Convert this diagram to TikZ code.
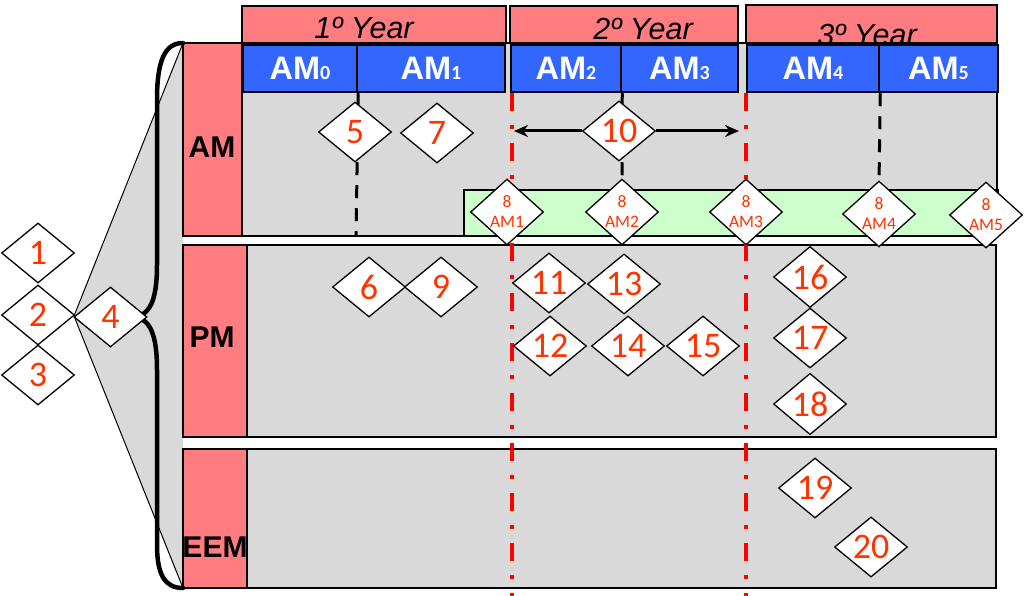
\documentclass[tikz,border=0pt]{standalone}
\usepackage{fontspec}
\setmainfont{Liberation Sans}
\newfontfamily\calfont{Carlito}
\usetikzlibrary{shapes.geometric,arrows.meta}
\definecolor{numred}{HTML}{FF3300}
\definecolor{pinkbox}{HTML}{FF7C80}
\definecolor{bluebox}{HTML}{3366FF}
\definecolor{grayarea}{HTML}{D9D9D9}
\definecolor{greenband}{HTML}{CCFFCC}
\tikzset{
  dia/.style={shape=diamond, draw=black, line width=1.3pt, fill=white, inner sep=0pt,
    minimum width=73pt, minimum height=60pt, text=numred,
    font=\calfont\fontsize{36}{40}\selectfont},
  sdia/.style={dia, align=center, font=\calfont\fontsize{17.5}{20}\selectfont},
  grayrow/.style={draw=black, line width=1.3pt, fill=grayarea},
  rowlab/.style={draw=black, line width=1.2pt, fill=pinkbox},
  yearbox/.style={draw=black, line width=1.2pt, fill=pinkbox},
  yeartext/.style={anchor=base, font=\itshape\fontsize{30.5}{32}\selectfont},
  amblue/.style={draw=black, line width=2.5pt, fill=bluebox, text=white,
    font=\bfseries\fontsize{32.5}{34}\selectfont},
  labtext/.style={font=\bfseries\fontsize{30}{32}\selectfont},
  reddash/.style={draw=red, line width=4pt, dash pattern=on 18pt off 14pt on 4pt off 14pt},
  blackdash/.style={draw=black, line width=3pt, dash pattern=on 13pt off 10pt},
  arr/.style={draw=black, line width=3pt, -{Stealth[length=14pt,width=12pt]}},
  fanline/.style={draw=black, line width=1pt},
  bracepath/.style={draw=black, line width=4.5pt, line cap=round, line join=round}
}
\newcommand{\sub}[1]{{\calfont\bfseries\fontsize{20}{20}\selectfont #1}}
\begin{document}
\begin{tikzpicture}[x=1pt,y=-1pt]
\useasboundingbox (0,0) rectangle (1024,596);
% fan
\coordinate (fanO) at (74,316);
\coordinate (fanT) at (183,43);
\coordinate (fanB) at (183,588);
\fill[grayarea] (fanO) -- (fanT) -- (fanB) -- cycle;
\draw[fanline] (fanO) -- (fanT);
\draw[fanline] (fanO) -- (fanB);
% rows
\draw[grayrow] (183,43) rectangle (997,236);
\draw[draw=black, line width=1.3pt, fill=greenband] (464,190) rectangle (998,236);
\draw[grayrow] (183,245) rectangle (996,437);
\draw[grayrow] (183,449) rectangle (996,588);
\draw[rowlab] (183,43) rectangle (242,236);
\draw[rowlab] (183,245) rectangle (247,437);
\draw[rowlab] (183,449) rectangle (247,588);
\node[labtext] (lam) at (212,147) {AM};
\node[labtext] (lpm) at (212,337) {PM};
\node[labtext] (leem) at (215,547) {EEM};
% brace
\draw[bracepath] (fanT) .. controls (165,43) and (157,60) .. (157,100) -- (157,265)
  .. controls (157,300) and (150,316) .. (133,317)
  .. controls (150,318) and (157,334) .. (157,370) -- (157,545)
  .. controls (157,575) and (165,588) .. (fanB);
% years
\draw[yearbox] (242,6) rectangle (506,43);
\draw[yearbox] (510,6) rectangle (738,43);
\draw[yearbox] (746,5) rectangle (997,43);
\node[yeartext] (y1) at (364,39) {1º Year};
\node[yeartext] (y2) at (643,40) {2º Year};
\node[yeartext] (y3) at (867,46) {3º Year};
% blue AM boxes
\node[amblue, minimum width=114pt, minimum height=47pt, inner sep=0pt] (am0) at (300,68.5) {AM\sub{0}};
\node[amblue, minimum width=148pt, minimum height=47pt, inner sep=0pt] (am1) at (431,68.5) {AM\sub{1}};
\node[amblue, minimum width=110pt, minimum height=47pt, inner sep=0pt] (am2) at (566,68.5) {AM\sub{2}};
\node[amblue, minimum width=117pt, minimum height=47pt, inner sep=0pt] (am3) at (679.5,68.5) {AM\sub{3}};
\node[amblue, minimum width=132pt, minimum height=47pt, inner sep=0pt] (am4) at (813,68.5) {AM\sub{4}};
\node[amblue, minimum width=119pt, minimum height=47pt, inner sep=0pt] (am5) at (938.5,68.5) {AM\sub{5}};
% red dash-dot lines
\coordinate (r1t) at (512,93);
\coordinate (r1b) at (512,596);
\coordinate (r2t) at (746,93);
\coordinate (r2b) at (746,596);
\draw[reddash] (r1t) -- (r1b);
\draw[reddash] (r2t) -- (r2b);
% AM row
\coordinate (d5end) at (356,236);
\draw[blackdash] (am0.south east) -- (d5end);
\draw[blackdash] (am2.south east) -- (622,182);
\draw[blackdash] (am4.south east) -- (879,184);
\node[dia] (d5) at (355,132) {5};
\node[dia] (d7) at (437,133) {7};
\node[dia] (d10) at (619,131) {10};
\coordinate (a10l) at (514,131);
\coordinate (a10r) at (739,131);
\draw[arr] (d10.west) -- (a10l);
\draw[arr] (d10.east) -- (a10r);
\node[sdia] (e1) at (507,212) {8\\AM1};
\node[sdia] (e2) at (622,212) {8\\AM2};
\node[sdia] (e3) at (746,212) {8\\AM3};
\node[sdia] (e4) at (879,214) {8\\AM4};
\node[sdia] (e5) at (986,215) {8\\AM5};
% PM row
\node[dia] (d6) at (369,287) {6};
\node[dia] (d9) at (441,287) {9};
\node[dia] (d11) at (549,283) {11};
\node[dia] (d13) at (624,284) {13};
\node[dia] (d12) at (550,346) {12};
\node[dia] (d14) at (628,346) {14};
\node[dia] (d15) at (703,346) {15};
\node[dia] (d16) at (810,277) {16};
\node[dia] (d17) at (810,338) {17};
\node[dia] (d18) at (810,404) {18};
% EEM row
\node[dia] (d19) at (815,488) {19};
\node[dia] (d20) at (871,547) {20};
% left diamonds
\node[dia] (d1) at (38,253) {1};
\node[dia] (d2) at (38,315) {2};
\node[dia] (d3) at (38,375) {3};
\node[dia] (d4) at (110.5,317) {4};
\end{tikzpicture}
\end{document}
